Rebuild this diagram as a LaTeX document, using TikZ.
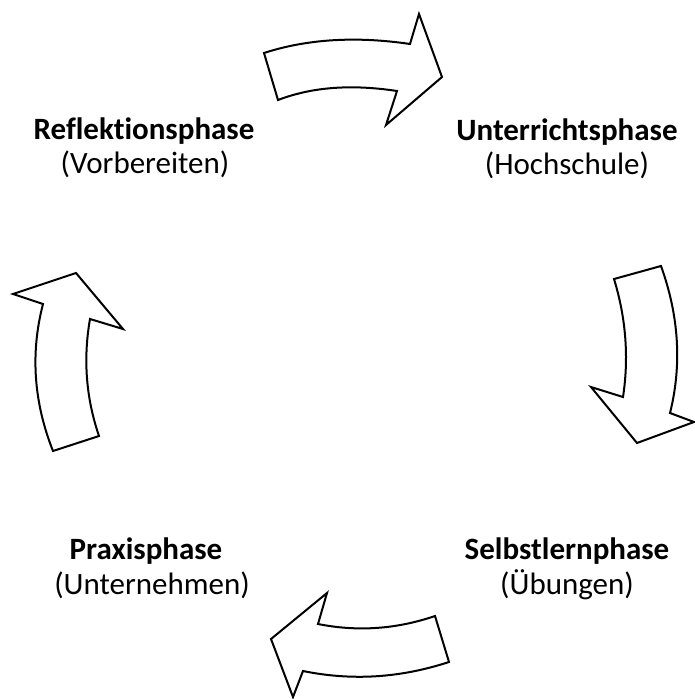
\documentclass[tikz,border=0pt]{standalone}
\usepackage{fontspec}
\setmainfont{Carlito}[Ligatures={NoCommon}]
\begin{document}
\begin{tikzpicture}[x=1pt,y=-1pt,
  arr/.style={draw=black,line width=2pt,line join=miter,fill=white},
  lbl/.style={anchor=base,font=\fontsize{31}{34}\selectfont,inner sep=0pt},
  hd/.style={lbl,font=\fontsize{31}{34}\selectfont\bfseries}]
\useasboundingbox (0,0) rectangle (695,699);
% top arrow
\draw[arr] (264,53) .. controls (307,39) and (356,36) .. (410,44)
  -- (419,14) -- (442,77) -- (386,125) -- (397,91)
  .. controls (351,84) and (312,87) .. (278,100) -- cycle;
% right arrow
\draw[arr] (661,266) .. controls (679,316) and (682,365) .. (670,413)
  -- (694,422) -- (637,443) -- (591,387) -- (623,397)
  .. controls (629,358) and (626,318) .. (614,279) -- cycle;
% bottom arrow
\draw[arr] (435,616) .. controls (397,629) and (358,632) .. (318,624)
  -- (327,593) -- (271,639) -- (293,697) -- (303,671)
  .. controls (352,681) and (400,678) .. (449,662) -- cycle;
% left arrow
\draw[arr] (99,436) .. controls (86,398) and (83,359) .. (90,319)
  -- (123,329) -- (76,273) -- (13,294) -- (43,304)
  .. controls (30,354) and (34,403) .. (53,451) -- cycle;
\node[hd] (refl) at (144,139) {Reflektionsphase};
\node[lbl] (refl2) at (145,173) {(Vorbereiten)};
\node[hd] (unt) at (567,140) {Unterrichtsphase};
\node[lbl] (unt2) at (567,174) {(Hochschule)};
\node[hd] (selb) at (567,559) {Selbstlernphase};
\node[lbl] (selb2) at (567,594) {(Übungen)};
\node[hd] (prax) at (146,559) {Praxisphase};
\node[lbl] (prax2) at (152,594) {(Unternehmen)};
\end{tikzpicture}
\end{document}
